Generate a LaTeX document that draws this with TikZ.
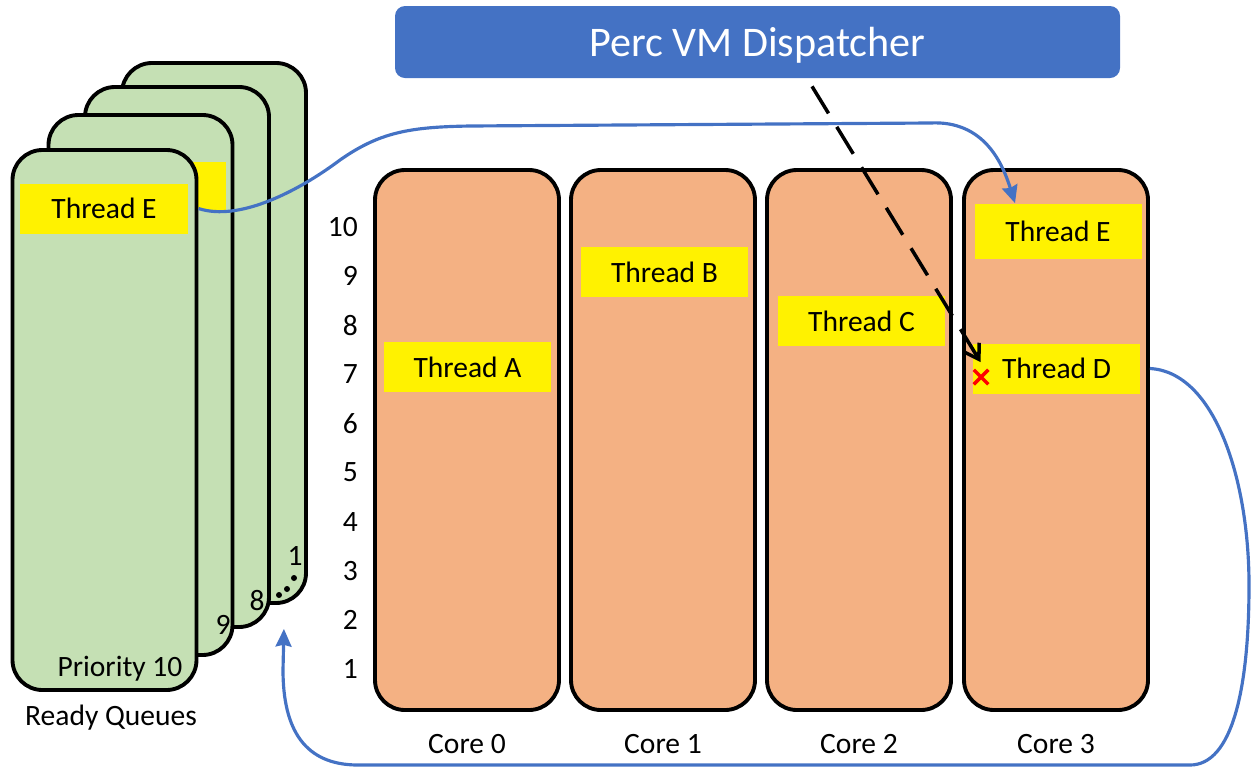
\documentclass[tikz,border=0pt]{standalone}
\usepackage{fontspec}
\setmainfont{Carlito}
\usetikzlibrary{arrows.meta,shapes.misc}

\definecolor{queuegreen}{HTML}{C5E0B4}
\definecolor{coreorange}{HTML}{F4B183}
\definecolor{vmblue}{HTML}{4472C4}

\tikzset{
  lbl/.style={font=\fontsize{16.8}{20}\selectfont},
  queue/.style={draw,line width=2.2pt,fill=queuegreen,rounded corners=6mm,minimum width=36.8mm,minimum height=108mm,inner sep=0pt},
  core/.style={draw,line width=2.2pt,fill=coreorange,rounded corners=6mm,minimum width=36.8mm,minimum height=108mm,inner sep=0pt},
  thread/.style={lbl,fill=yellow,minimum width=33.4mm,minimum height=10mm,inner sep=0pt,text depth=-4pt},
  move/.style={vmblue,line width=1.8pt,-{Stealth[length=10pt,width=9pt,inset=1pt]}},
}

\begin{document}
\begin{tikzpicture}[x=0.2mm,y=-0.2mm]
    \useasboundingbox (0,0) rectangle (1252,767);

    % ready queues, back to front
    \node[queue] (q4) at (214,333) {};
    \node[queue] (q3) at (177,357) {};
    \node[queue] (q2) at (140.5,385) {};
    \node[thread,minimum height=9.6mm] (q2t) at (142,186) {};
    \node[queue] (q1) at (104.5,420) {};
    \node[thread] (qE) at (104,208.5) {Thread E};

    \node[lbl] (p10) at (120,669) {Priority 10};
    \node[lbl] (p9) at (223,625) {9};
    \node[lbl] (p8) at (257,601) {8};
    \node[lbl] (p1) at (295,556) {1};
    \foreach \x/\y in {279/595,287/589,294/578}
        \fill (\x,\y) circle (0.6mm);
    \node[lbl] (rq) at (111,718) {Ready Queues};

    % cores
    \foreach \i/\x in {0/467,1/663,2/859,3/1056} {
        \node[core] (c\i) at (\x,440) {};
        \node[lbl] (cl\i) at (\x,744) {Core \i};
    }

    % priority levels
    \foreach \p in {1,...,10}
        \node[lbl,anchor=east] (n\p) at (364,{227+(10-\p)*49.1}) {\p};

    % running threads
    \node[thread] (tA) at (467.5,367) {Thread A};
    \node[thread] (tB) at (664.5,272) {Thread B};
    \node[thread] (tC) at (861.5,321) {Thread C};
    \node[thread,minimum height=11mm] (tE) at (1058,231) {Thread E};
    \node[thread] (tD) at (1056.5,368.5) {Thread D};
    \node[cross out,draw=red,line width=2pt,minimum size=2.2mm,inner sep=0pt] (kill) at (981,377) {};

    \node[fill=vmblue,rounded corners=2mm,minimum width=145mm,minimum height=14.4mm,text depth=-5pt,text=white,font=\fontsize{24}{28}\selectfont] (disp) at (757.5,42) {Perc VM Dispatcher};

    \draw[line width=2pt,dash pattern=on 18pt off 9pt,-{Straight Barb[length=8pt,width=10pt]}] ([xshift=10.9mm,yshift=-1.6mm]disp.south) -- ([xshift=1.6mm,yshift=-3.8mm]tD.north west);

    \draw[move] (q1.east |- qE.east) .. controls (240,222) and (300,190) .. (340,160)
        .. controls (380,132) and (410,127) .. (470,126) -- (930,123)
        .. controls (985,120) and (1003,165) .. ([xshift=-8.6mm]tE.north);
    \draw[move] (c3.east |- tD.east) .. controls (1215,372) and (1249,480) .. (1249,585)
        .. controls (1249,690) and (1232,765) .. (1190,765) -- (358,765)
        .. controls (305,765) and (283,730) .. (283,670) -- ([xshift=2.6mm]q3.south east);
\end{tikzpicture}
\end{document}
